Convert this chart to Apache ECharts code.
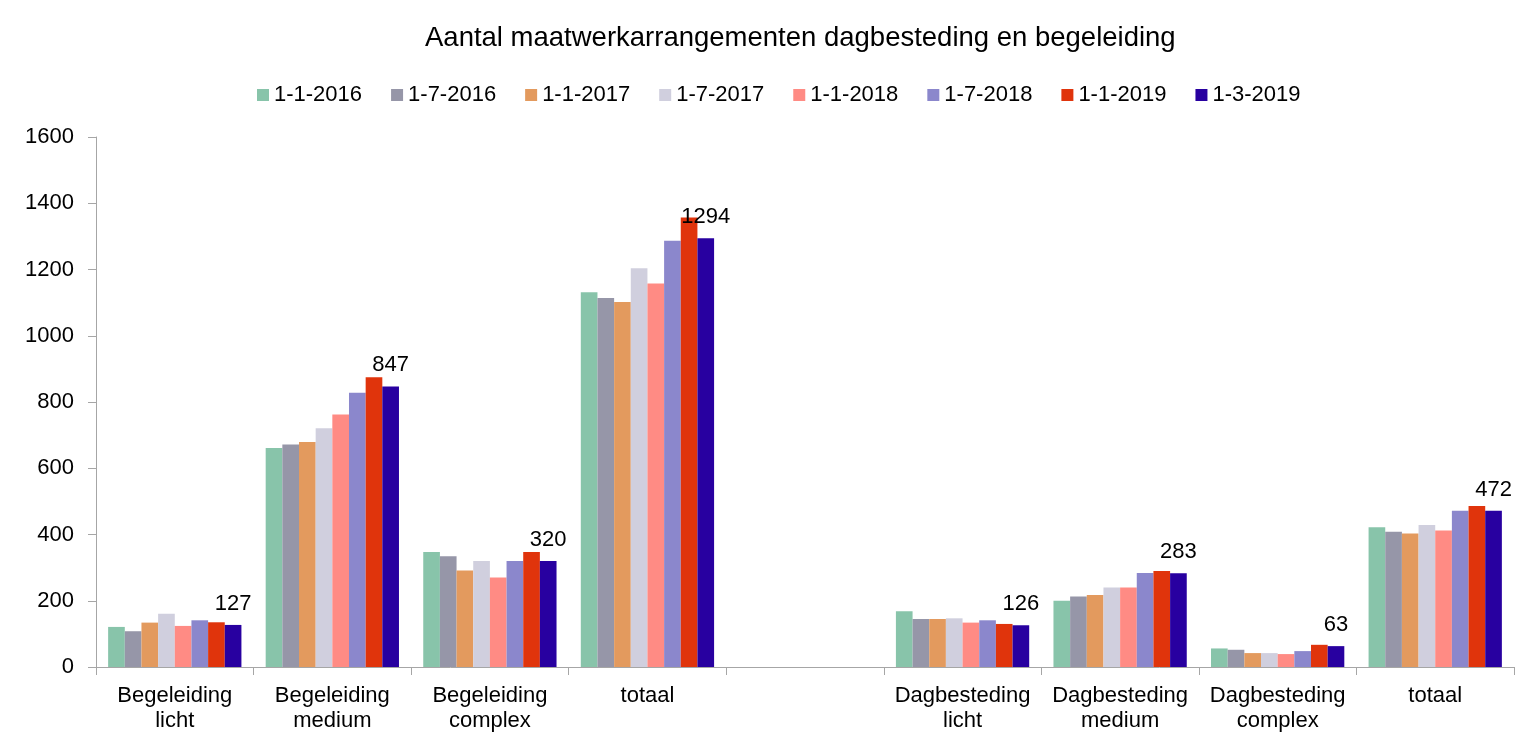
<!DOCTYPE html>
<html>
<head>
<meta charset="utf-8">
<script src="https://cdn.jsdelivr.net/npm/echarts@6/dist/echarts.min.js"></script>
<style>
  html, body { margin: 0; padding: 0; background: #fff; }
  #chart { width: 1532px; height: 744px; }
</style>
</head>
<body>
<div id="chart"></div>
<script>
// categories (empty slot between the two blocks)
const categories = [
  "Begeleiding\nlicht", "Begeleiding\nmedium", "Begeleiding\ncomplex", "totaal", "",
  "Dagbesteding\nlicht", "Dagbesteding\nmedium", "Dagbesteding\ncomplex", "totaal"
];
const dates = ["1-1-2016", "1-7-2016", "1-1-2017", "1-7-2017", "1-1-2018", "1-7-2018", "1-1-2019", "1-3-2019"];
const colors = ["#88c4aa", "#9696a8", "#e39a5e", "#d0cfde", "#ff8b84", "#8b87cc", "#e0340c", "#2800a0"];

// values per date
const v_2016_01 = [121, 661, 347, 1131, null, 168, 200, 56, 422];
const v_2016_07 = [108, 672, 334, 1114, null, 145, 213, 52, 408];
const v_2017_01 = [134, 679, 291, 1102, null, 145, 217, 42, 403];
const v_2017_07 = [161, 721, 320, 1204, null, 147, 240, 42, 429];
const v_2018_01 = [124, 762, 270, 1158, null, 134, 240, 39, 412];
const v_2018_07 = [141, 828, 320, 1287, null, 141, 284, 48, 472];
const v_2019_01 = [135, 875, 347, 1357, null, 130, 290, 67, 486];
const v_2019_03 = [127, 847, 320, 1294, null, 126, 283, 63, 472];
const allValues = [v_2016_01, v_2016_07, v_2017_01, v_2017_07, v_2018_01, v_2018_07, v_2019_01, v_2019_03];

const myChart = echarts.init(document.getElementById("chart"));

let series = [];
allValues.forEach(function (vals, idx) {
  let last = idx === allValues.length - 1;
  series.push({
    type: "bar",
    name: dates[idx],
    data: vals,
    barGap: "0%",
    barCategoryGap: "15.4%",
    itemStyle: { color: colors[idx] },
    label: {
      show: last,
      position: "top",
      distance: 10,
      color: "#000",
      fontSize: 22
    }
  });
});

const option = {
  animation: false,
  backgroundColor: "#fff",
  textStyle: { fontFamily: "Liberation Sans, Arial, sans-serif" },
  title: {
    text: "Aantal maatwerkarrangementen dagbesteding en begeleiding",
    left: 420,
    top: 19,
    textStyle: { fontSize: 27.5, fontWeight: "normal", color: "#000" }
  },
  legend: {
    top: 79,
    left: 252,
    icon: "rect",
    itemWidth: 12,
    itemHeight: 12,
    itemGap: 29,
    textStyle: { fontSize: 22, color: "#000" },
    data: dates
  },
  grid: {
    left: 96,
    right: 18,
    top: 137,
    bottom: 77,
    containLabel: false
  },
  xAxis: {
    type: "category",
    data: categories,
    axisLine: { lineStyle: { color: "#a6a6a6", width: 1 } },
    axisTick: { show: true, length: 8, lineStyle: { color: "#a6a6a6" } },
    axisLabel: { color: "#000", fontSize: 22, lineHeight: 25, margin: 16, interval: 0 }
  },
  yAxis: {
    type: "value",
    min: 0,
    max: 1600,
    interval: 200,
    axisLine: { show: true, lineStyle: { color: "#a6a6a6", width: 1 } },
    axisTick: { show: true, length: 8, lineStyle: { color: "#a6a6a6" } },
    splitLine: { show: false },
    axisLabel: { color: "#000", fontSize: 22, margin: 22, formatter: function (v) { return String(v); } }
  },
  series: series
};
myChart.setOption(option);
</script>
</body>
</html>
